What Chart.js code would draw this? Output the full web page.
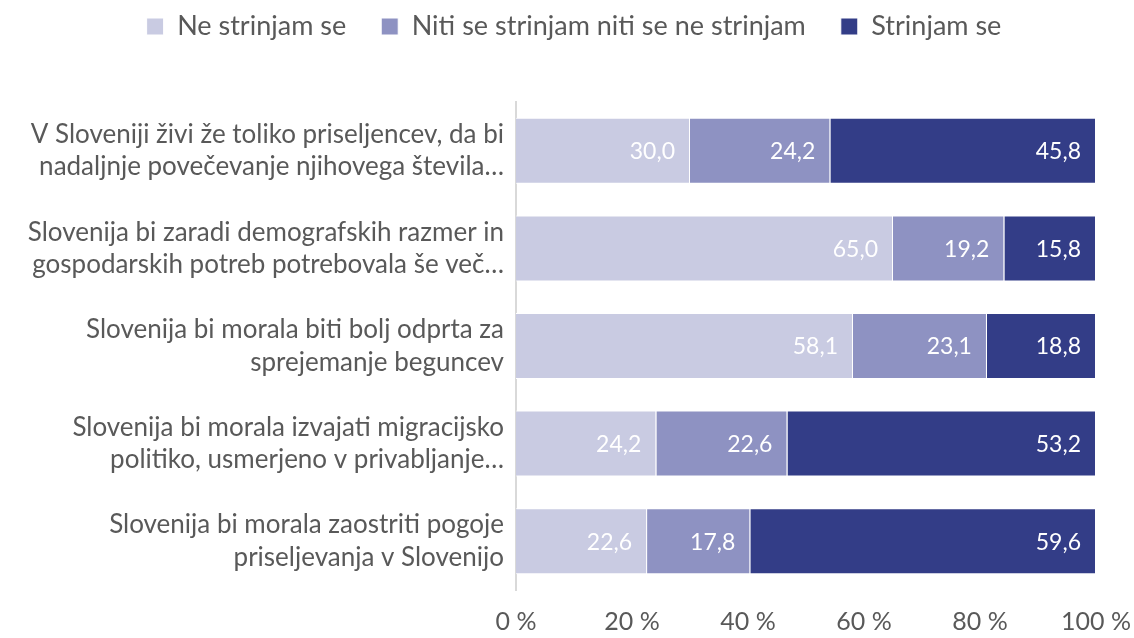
<!DOCTYPE html>
<html>
<head>
<meta charset="utf-8">
<script src="https://cdn.jsdelivr.net/npm/chart.js@4/dist/chart.umd.min.js"></script>
<style>
  html, body { margin: 0; padding: 0; background: #fff; }
  #wrap { width: 1134px; height: 638px; position: relative; }
</style>
</head>
<body>
<div id="wrap"><canvas id="chart_agreement"></canvas></div>
<script>
// categories (already wrapped the way the source shows them)
var categories = [
  ['V Sloveniji živi že toliko priseljencev, da bi', 'nadaljnje povečevanje njihovega števila…'],
  ['Slovenija bi zaradi demografskih razmer in', 'gospodarskih potreb potrebovala še več…'],
  ['Slovenija bi morala biti bolj odprta za', 'sprejemanje beguncev'],
  ['Slovenija bi morala izvajati migracijsko', 'politiko, usmerjeno v privabljanje…'],
  ['Slovenija bi morala zaostriti pogoje', 'priseljevanja v Slovenijo']
];
var seriesNames = ['Ne strinjam se', 'Niti se strinjam niti se ne strinjam', 'Strinjam se'];
var disagree = [30.0, 65.0, 58.1, 24.2, 22.6];
var neutral  = [24.2, 19.2, 23.1, 22.6, 17.8];
var agree    = [45.8, 15.8, 18.8, 53.2, 59.6];
var xTicks = [0, 20, 40, 60, 80, 100];

var colours = ['#c9cbe2', '#8e92c2', '#333d87'];
var textGrey = '#595959';
var fontFamily = 'Lato, "Open Sans", sans-serif';

function fmt(v) {
  return v.toFixed(1).replace('.', ',');
}

// white value labels drawn right-aligned inside each segment
var valueLabels = {
  id: 'valueLabels',
  afterDatasetsDraw: function(chart) {
    var ctx = chart.ctx;
    ctx.save();
    ctx.fillStyle = '#ffffff';
    ctx.font = '23px ' + fontFamily;
    ctx.textAlign = 'right';
    ctx.textBaseline = 'middle';
    chart.data.datasets.forEach(function(ds, i) {
      chart.getDatasetMeta(i).data.forEach(function(bar, j) {
        ctx.fillText(fmt(ds.data[j]), bar.x - 15, bar.y + 1);
      });
    });
    ctx.restore();
  }
};

// legend block is taller than its one row, chart starts lower;
// the legend row also sits a bit right of centre
var legendSpace = {
  id: 'legendSpace',
  beforeInit: function(chart) {
    var orig = chart.legend.fit;
    chart.legend.fit = function() {
      orig.bind(chart.legend)();
      this.height = 124;
    };
  },
  afterLayout: function(chart) {
    chart.legend.left += 7;
    chart.legend.right += 7;
  }
};

var chart_agreement = new Chart(document.getElementById('chart_agreement'), {
  type: 'bar',
  data: {
    labels: categories,
    datasets: [
      { label: seriesNames[0], data: disagree, backgroundColor: colours[0], borderColor: '#ffffff', borderWidth: 1 },
      { label: seriesNames[1], data: neutral,  backgroundColor: colours[1], borderColor: '#ffffff', borderWidth: 1 },
      { label: seriesNames[2], data: agree,    backgroundColor: colours[2], borderColor: '#ffffff', borderWidth: 1 }
    ]
  },
  options: {
    indexAxis: 'y',
    animation: false,
    responsive: true,
    maintainAspectRatio: false,
    categoryPercentage: 0.69,
    barPercentage: 0.98,
    layout: { padding: { top: -22, right: 0, bottom: -16, left: 0 } },
    plugins: {
      legend: {
        position: 'top',
        labels: {
          color: textGrey,
          font: { family: fontFamily, size: 27 },
          boxWidth: 17,
          boxHeight: 17,
          padding: 35
        }
      },
      tooltip: { enabled: false }
    },
    scales: {
      x: {
        stacked: true,
        min: 0,
        max: 100,
        afterBuildTicks: function(scale) {
          scale.ticks = xTicks.map(function(v) { return { value: v }; });
        },
        afterFit: function(scale) { scale.paddingRight = 38; },
        ticks: {
          color: textGrey,
          font: { family: fontFamily, size: 25 },
          padding: 17,
          callback: function(value) { return value + ' %'; }
        },
        grid: { display: false, drawTicks: false },
        border: { display: false }
      },
      y: {
        stacked: true,
        afterFit: function(scale) { scale.width = 516; },
        ticks: {
          color: textGrey,
          font: { family: fontFamily, size: 26, lineHeight: 1.25 },
          padding: 12
        },
        grid: { display: false, drawTicks: false },
        border: { display: true, color: '#d9d9d9', width: 2 }
      }
    }
  },
  plugins: [valueLabels, legendSpace]
});
</script>
</body>
</html>
